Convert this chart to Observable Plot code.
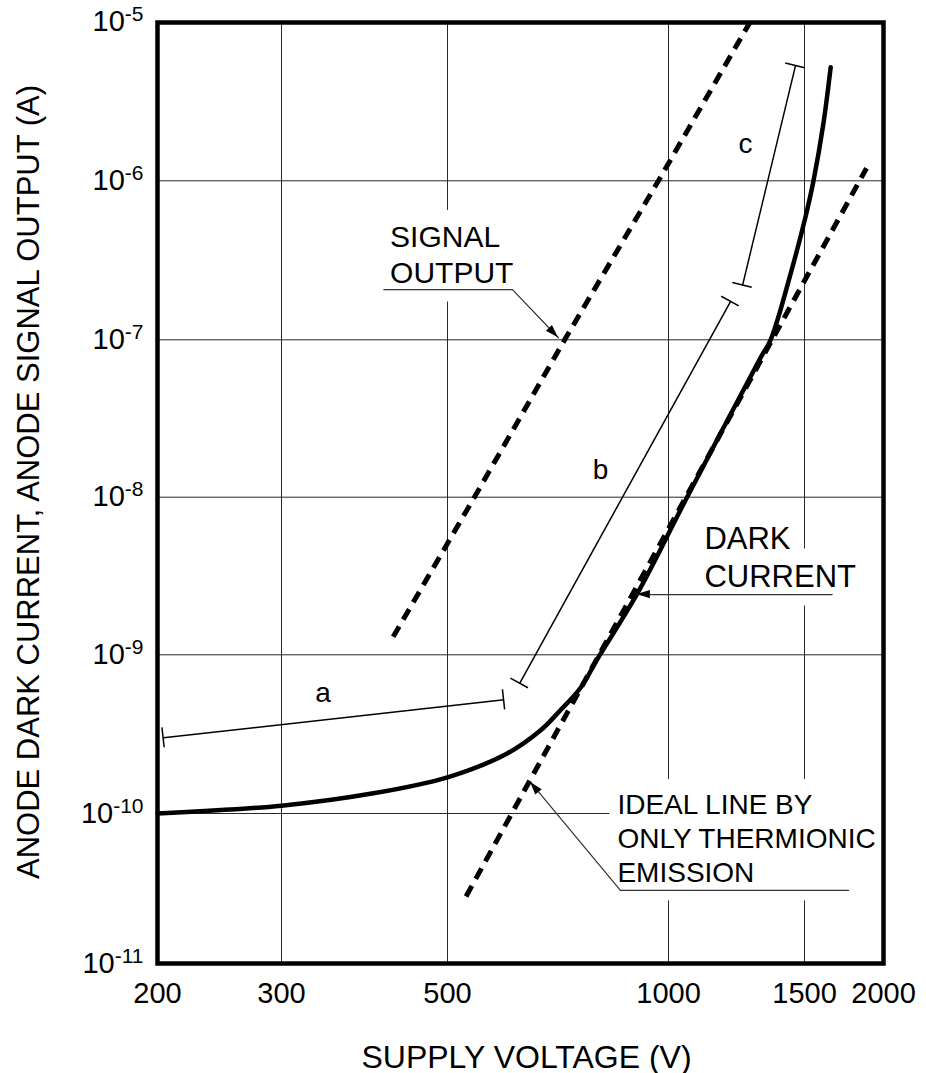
<!DOCTYPE html>
<html>
<head>
<meta charset="utf-8">
<script src="https://cdn.jsdelivr.net/npm/d3@7"></script>
<script src="https://cdn.jsdelivr.net/npm/@observablehq/plot@0.6"></script>
<style>
html, body { margin: 0; padding: 0; background: #fff; }
#chart svg { display: block; }
</style>
</head>
<body>
<div id="chart"></div>
<script>
// ---------- axis ticks ----------
const xTicks = [200, 300, 500, 1000, 1500, 2000];
const yTicks = [1e-11, 1e-10, 1e-9, 1e-8, 1e-7, 1e-6, 1e-5];
const xTitle = "SUPPLY VOLTAGE (V)";
const yTitle = "ANODE DARK CURRENT, ANODE SIGNAL OUTPUT (A)";

// ---------- series ----------
const darkVolts = [200, 300, 398, 500, 603, 669, 712, 759, 800, 907, 1057, 1316, 1356, 1439, 1505, 1550, 1607, 1650];
const darkAmps  = [1.0e-10, 1.12e-10, 1.34e-10, 1.69e-10, 2.39e-10, 3.33e-10, 4.46e-10, 6.2e-10, 9.4e-10, 2.45e-9, 1.0e-8, 7.7e-8, 1.0e-7, 2.6e-7, 5.9e-7, 1.0e-6, 2.3e-6, 5.2e-6];

const signalVolts = [423, 544, 722, 969, 1275];
const signalAmps  = [1.3e-9, 1e-8, 1e-7, 1e-6, 1e-5];

const idealVolts = [530, 1000, 1500, 1880];
const idealAmps  = [2.8e-11, 6.3e-9, 2.35e-7, 1.2e-6];

// ---------- range bars a, b, c ----------
const barNames  = ["a", "b", "c"];
const barStartV = [204, 627, 1247];
const barStartA = [3.0e-10, 6.6e-10, 2.2e-7];
const barEndV   = [597, 1203, 1460];
const barEndA   = [5.2e-10, 1.74e-7, 5.3e-6];
const barLabelV = [341, 808, 1258];
const barLabelA = [5.75e-10, 1.48e-8, 1.7e-6];

// ---------- annotations ----------
const noteText = ["SIGNAL\nOUTPUT", "DARK\nCURRENT", "IDEAL LINE BY\nONLY THERMIONIC\nEMISSION"];
const noteV = [419, 1113, 852];
const noteA = [2.26e-7, 2.71e-9, 3.47e-11];
const noteSize = [30, 31, 28];

const signalLeaderV = [411, 613, 708];
const signalLeaderA = [2.07e-7, 2.07e-7, 1.03e-7];
const darkLeaderV = [1659, 907];
const darkLeaderA = [2.41e-9, 2.41e-9];
const idealLeaderV = [1761, 860, 649];
const idealLeaderA = [3.07e-11, 3.07e-11, 1.57e-10];

const leaders = [[signalLeaderV, signalLeaderA], [darkLeaderV, darkLeaderA], [idealLeaderV, idealLeaderA]];
const leaderRows = leaders.flatMap(([vs, as], k) => vs.map((v, i) => ({k, v, a: as[i]})));

// end caps of the range bars and filled arrowheads, positioned through the scales
function capsAndArrows(index, scales) {
  const {x, y} = scales;
  const g = d3.create("svg:g");
  barNames.forEach((_, i) => {
    const x1 = x(barStartV[i]), y1 = y(barStartA[i]), x2 = x(barEndV[i]), y2 = y(barEndA[i]);
    const L = Math.hypot(x2 - x1, y2 - y1);
    const nx = -(y2 - y1) / L * 10, ny = (x2 - x1) / L * 10;
    for (const [px, py] of [[x1, y1], [x2, y2]]) {
      g.append("line")
        .attr("x1", px - nx).attr("y1", py - ny)
        .attr("x2", px + nx).attr("y2", py + ny)
        .attr("stroke", "#000").attr("stroke-width", 1.5);
    }
  });
  leaders.forEach(([vs, as]) => {
    const n = vs.length;
    const tx = x(vs[n - 1]), ty = y(as[n - 1]);
    const px = x(vs[n - 2]), py = y(as[n - 2]);
    const L = Math.hypot(tx - px, ty - py);
    const ux = (tx - px) / L, uy = (ty - py) / L;
    const bx = tx - ux * 13, by = ty - uy * 13;
    const w = 4.2;
    g.append("path")
      .attr("d", `M${tx},${ty}L${bx - uy * w},${by + ux * w}L${bx + uy * w},${by - ux * w}Z`)
      .attr("fill", "#000");
  });
  return g.node();
}

const chart = Plot.plot({
  width: 926,
  height: 1073,
  marginLeft: 157,
  marginRight: 43,
  marginTop: 22,
  marginBottom: 110,
  style: {
    fontFamily: "'Liberation Sans', Arial, Helvetica, sans-serif",
    fontSize: "28px",
    color: "#000",
    background: "#fff",
    overflow: "visible"
  },
  x: {type: "log", domain: xTicks, range: [157, 281, 447, 668, 804, 883]},
  y: {type: "log", domain: yTicks, range: [963, 813, 654.3, 496.7, 339.3, 180.3, 21.7]},
  marks: [
    Plot.gridX(xTicks.slice(1, -1), {stroke: "#111", strokeOpacity: 0.9, strokeWidth: 1}),
    Plot.gridY(yTicks.slice(1, -1), {stroke: "#111", strokeOpacity: 0.9, strokeWidth: 1}),
    Plot.line(signalVolts, {x: signalVolts, y: signalAmps, stroke: "#000", strokeWidth: 5, strokeDasharray: "12,8", strokeLinecap: "butt"}),
    Plot.line(idealVolts, {x: idealVolts, y: idealAmps, stroke: "#000", strokeWidth: 5, strokeDasharray: "12,8", strokeLinecap: "butt"}),
    Plot.line(darkVolts, {x: darkVolts, y: darkAmps, stroke: "#000", strokeWidth: 4.5, curve: "catmull-rom"}),
    Plot.link(barNames, {x1: barStartV, y1: barStartA, x2: barEndV, y2: barEndA, stroke: "#000", strokeWidth: 1.5}),
    Plot.text(barNames, {x: barLabelV, y: barLabelA, text: d => d, fontSize: 28, fill: "#000"}),
    ...noteText.map((t, i) =>
      Plot.text([t], {x: [noteV[i]], y: [noteA[i]], text: d => d, textAnchor: "start", lineAnchor: "bottom", lineHeight: 1.22, fontSize: noteSize[i], fill: "#000"})),
    Plot.line(leaderRows, {x: "v", y: "a", z: "k", stroke: "#333", strokeWidth: 1.2}),
    capsAndArrows,
    Plot.axisX(xTicks, {tickSize: 0, tickPadding: 19, fontSize: 29, tickFormat: d => String(d), label: null}),
    Plot.axisY(yTicks, {tickSize: 0, tickPadding: 14, fontSize: 29, tickFormat: d => "10^" + Math.round(Math.log10(d)), label: null}),
    Plot.text([xTitle], {text: d => d, frameAnchor: "bottom", dx: 6, dy: 104, lineAnchor: "bottom", fontSize: 32, fill: "#000"}),
    Plot.text([yTitle], {text: d => d, frameAnchor: "left", textAnchor: "middle", rotate: -90, dx: -128, dy: -11, lineAnchor: "middle", fontSize: 31, fill: "#000"}),
    Plot.frame({stroke: "#000", strokeWidth: 4.5})
  ]
});

document.getElementById("chart").append(chart);

// superscript exponents on the y tick labels
const SVGNS = "http://www.w3.org/2000/svg";
chart.querySelectorAll("text").forEach(t => {
  const m = t.textContent.match(/^10\^(-?\d+)$/);
  if (!m) return;
  t.textContent = "10";
  const sup = document.createElementNS(SVGNS, "tspan");
  sup.setAttribute("dy", "-10");
  sup.setAttribute("font-size", "21");
  sup.textContent = m[1];
  t.appendChild(sup);
});

// white boxes behind the annotation labels (hide the grid there)
const svgBox = chart.getBoundingClientRect();
const rects = [];
const padT = 10, padB = 12, padS = 8;
function addRect(r) {
  rects.push({x: r.left - svgBox.left - padS, y: r.top - svgBox.top - padT,
              w: r.width + 2 * padS, h: r.height + padT + padB});
}
chart.querySelectorAll("text").forEach(t => {
  const s = t.textContent;
  if (s === "SIGNALOUTPUT" || s === "IDEAL LINE BYONLY THERMIONICEMISSION") addRect(t.getBoundingClientRect());
  else if (s === "DARKCURRENT") t.querySelectorAll("tspan").forEach(ts => addRect(ts.getBoundingClientRect()));
});
const boxG = document.createElementNS(SVGNS, "g");
rects.forEach(r => {
  const el = document.createElementNS(SVGNS, "rect");
  el.setAttribute("x", r.x); el.setAttribute("y", r.y);
  el.setAttribute("width", r.w); el.setAttribute("height", r.h);
  el.setAttribute("fill", "#fff");
  boxG.appendChild(el);
});
const groups = Array.from(chart.children).filter(c => c.tagName.toLowerCase() === "g");
chart.insertBefore(boxG, groups[2]);
</script>
</body>
</html>
